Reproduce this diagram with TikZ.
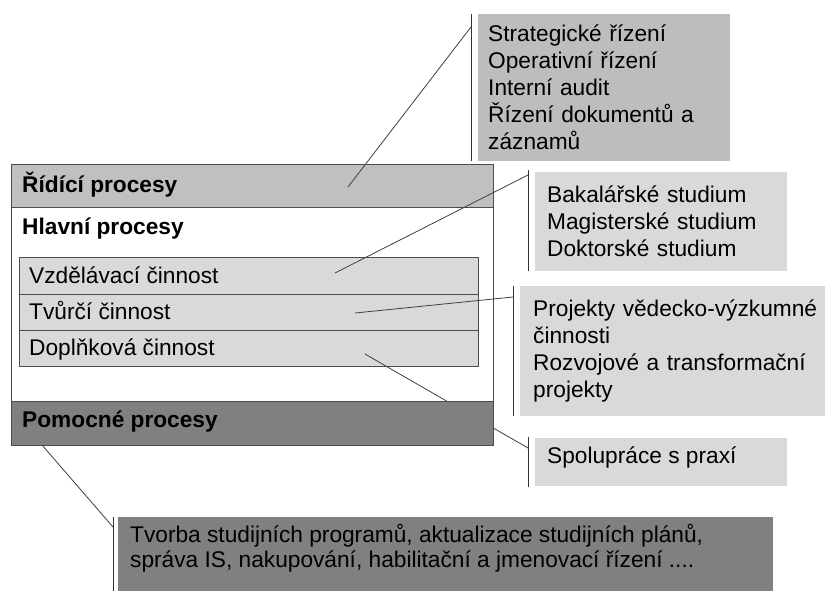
\documentclass[tikz,border=0pt]{standalone}
\usepackage{fontspec}
\setmainfont{Liberation Sans}
\definecolor{ridic}{HTML}{C0C0C0}
\definecolor{boxa}{HTML}{BDBDBD}
\definecolor{light}{HTML}{D9D9D9}
\definecolor{dark}{HTML}{808080}
\definecolor{bord}{HTML}{4D4D4D}
\definecolor{lead}{HTML}{404040}
\begin{document}
\begin{tikzpicture}[x=1pt,y=-1pt,
  band/.style={inner sep=0pt, anchor=north west, minimum width=482pt},
  rowbox/.style={draw=bord, fill=light, line width=0.9pt, inner sep=0pt, anchor=north west, minimum width=459pt},
  lbl/.style={inner sep=0pt, anchor=base west, font=\fontsize{22.7}{27}\selectfont},
  blbl/.style={lbl, font=\fontsize{22.7}{27}\selectfont\bfseries},
  callout/.style={inner ysep=0pt, anchor=north west, align=left, font=\fontsize{22.7}{27}\selectfont},
  leader/.style={draw=lead, line width=0.8pt},
  barline/.style={draw=black!80, line width=1pt}]
\useasboundingbox (0,0) rectangle (825,590);
\fill[white] (0,0) rectangle (825,590);

% main structure
\node[band, fill=white, minimum height=281pt] (main) at (11,164) {};
\node[band, fill=ridic, minimum height=43pt] (ridicband) at (11,164) {};
\draw[bord, line width=0.9pt] (ridicband.south west) -- (ridicband.south east);
\node[rowbox, minimum height=37pt] (r1) at (19,257) {};
\node[rowbox, minimum height=36pt] (r2) at (19,294) {};
\node[rowbox, minimum height=36pt] (r3) at (19,330) {};

\coordinate (l4s) at (365,354);
\coordinate (l4e) at (528,448);
\draw[leader] (l4s) -- (l4e);

\node[band, fill=dark, draw=bord, line width=0.9pt, minimum height=44pt] (pom) at (11,401) {};
\draw[bord, line width=1pt] (main.north west) rectangle (main.south east);

% labels in main box
\node[blbl] (tridic) at (22,192) {Řídící procesy};
\node[blbl] (thlav) at (22,234) {Hlavní procesy};
\node[lbl] (tvzd) at (29,283) {Vzdělávací činnost};
\node[lbl] (ttvur) at (29,319) {Tvůrčí činnost};
\node[lbl] (tdopl) at (29,355) {Doplňková činnost};
\node[blbl] (tpom) at (22,427) {Pomocné procesy};

% callout boxes
\node[callout, fill=boxa, inner xsep=10pt, text width=232pt, minimum height=147pt] (b1) at (478,14)
  {Strategické řízení\\Operativní řízení\\Interní audit\\Řízení dokumentů a\\záznamů};
\node[callout, fill=light, inner xsep=12pt, text width=228pt, minimum height=99pt] (b2) at (535,172)
  {Bakalářské studium\\Magisterské studium\\Doktorské studium};
\node[callout, fill=light, inner xsep=13pt, text width=279pt, minimum height=130pt] (b3) at (520,286)
  {\mbox{Projekty vědecko-výzkumné}\\činnosti\\\mbox{Rozvojové a transformační}\\projekty};
\node[fill=light, inner sep=0pt, anchor=north west, minimum width=252pt, minimum height=48pt] (b4) at (535,438) {};
\node[lbl] (t4) at (547,463) {Spolupráce s praxí};
\node[fill=dark, inner sep=0pt, anchor=north west, minimum width=655pt, minimum height=74pt] (b5) at (118,517) {};
\node[inner sep=0pt, anchor=base west, align=left, font=\fontsize{22.7}{25}\selectfont] (t5) at (130,567)
  {Tvorba studijních programů, aktualizace studijních plánů,\\správa IS, nakupování, habilitační a jmenovací řízení ....};

% bars
\draw[barline] ([xshift=-7pt]b1.north west) -- ([xshift=-7pt]b1.south west);
\draw[barline] ([xshift=-7pt,yshift=2pt]b2.north west) -- ([xshift=-7pt]b2.south west);
\draw[barline] ([xshift=-7pt]b3.north west) -- ([xshift=-7pt]b3.south west);
\draw[barline] ([xshift=-7pt,yshift=1pt]b4.north west) -- ([xshift=-7pt,yshift=-1pt]b4.south west);
\draw[barline] ([xshift=-5pt]b5.north west) -- ([xshift=-5pt]b5.south west);

% leaders
\coordinate (l1s) at (348,187);
\coordinate (l1e) at (471,27);
\coordinate (l2s) at (335,273);
\coordinate (l2e) at (528,175);
\coordinate (l3s) at (355,313);
\coordinate (l3e) at (513,297);
\coordinate (l5s) at (42,445);
\coordinate (l5e) at (113,527);
\draw[leader] (l1s) -- (l1e);
\draw[leader] (l2s) -- (l2e);
\draw[leader] (l3s) -- (l3e);
\draw[leader] (l5s) -- (l5e);
\end{tikzpicture}
\end{document}
